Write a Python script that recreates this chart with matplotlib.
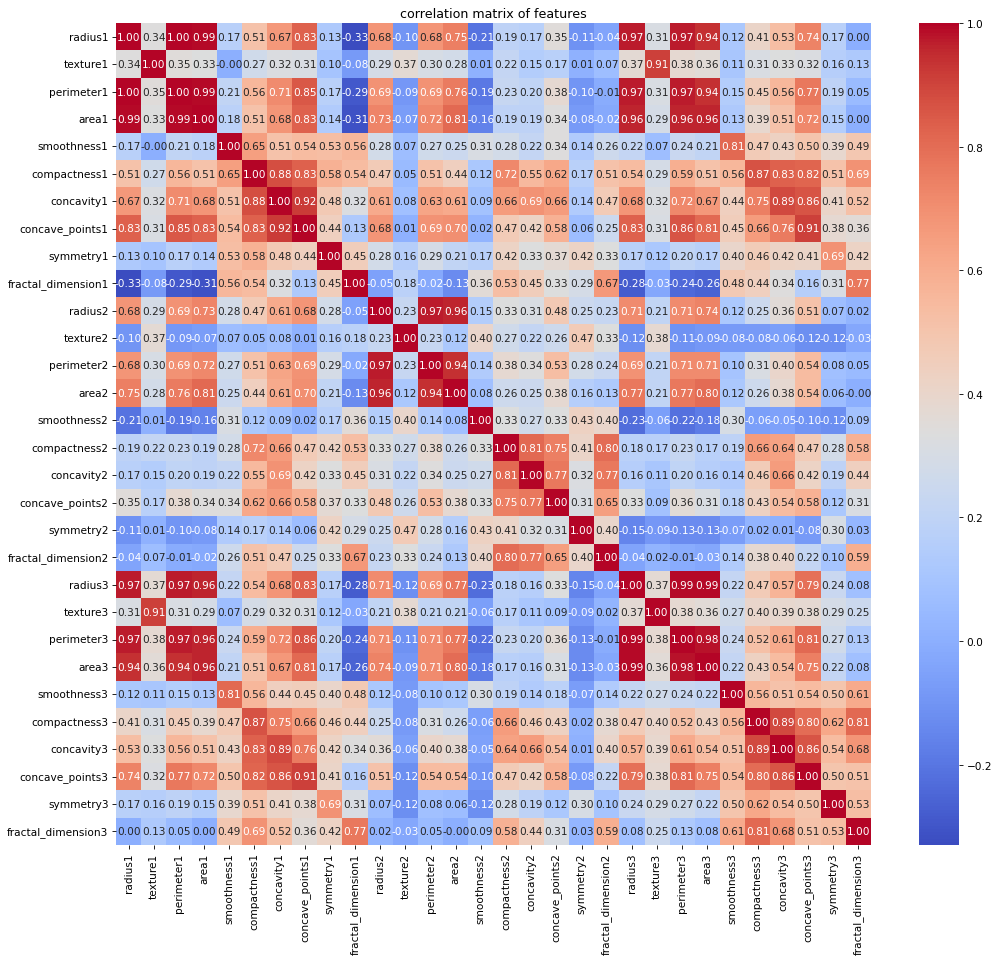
import numpy as np
import pandas as pd
import matplotlib
matplotlib.use("Agg")
import matplotlib.pyplot as plt
import seaborn as sns

# nombres de las variables (mean=1, se=2, worst=3)
base = ["radius", "texture", "perimeter", "area", "smoothness", "compactness",
        "concavity", "concave_points", "symmetry", "fractal_dimension"]
features = [f"{b}{i}" for i in (1, 2, 3) for b in base]

# bloques de la matriz de correlacion (triangulo inferior)
# bloque mean x mean
block_11 = [
    [1.00, 0.34, 1.00, 0.99, 0.17, 0.51, 0.67, 0.83, 0.13, -0.33],
    [0.34, 1.00, 0.35, 0.33, -0.001, 0.27, 0.32, 0.31, 0.10, -0.08],
    [1.00, 0.35, 1.00, 0.99, 0.21, 0.56, 0.71, 0.85, 0.17, -0.29],
    [0.99, 0.33, 0.99, 1.00, 0.18, 0.51, 0.68, 0.83, 0.14, -0.31],
    [0.17, -0.001, 0.21, 0.18, 1.00, 0.65, 0.51, 0.54, 0.53, 0.56],
    [0.51, 0.27, 0.56, 0.51, 0.65, 1.00, 0.88, 0.83, 0.58, 0.54],
    [0.67, 0.32, 0.71, 0.68, 0.51, 0.88, 1.00, 0.92, 0.48, 0.32],
    [0.83, 0.31, 0.85, 0.83, 0.54, 0.83, 0.92, 1.00, 0.44, 0.13],
    [0.13, 0.10, 0.17, 0.14, 0.53, 0.58, 0.48, 0.44, 1.00, 0.45],
    [-0.33, -0.08, -0.29, -0.31, 0.56, 0.54, 0.32, 0.13, 0.45, 1.00],
]
# bloque se x mean
block_21 = [
    [0.68, 0.29, 0.69, 0.73, 0.28, 0.47, 0.61, 0.68, 0.28, -0.05],
    [-0.10, 0.37, -0.09, -0.07, 0.07, 0.05, 0.08, 0.01, 0.16, 0.18],
    [0.68, 0.30, 0.69, 0.72, 0.27, 0.51, 0.63, 0.69, 0.29, -0.02],
    [0.75, 0.28, 0.76, 0.81, 0.25, 0.44, 0.61, 0.70, 0.21, -0.13],
    [-0.21, 0.01, -0.19, -0.16, 0.31, 0.12, 0.09, 0.02, 0.17, 0.36],
    [0.19, 0.22, 0.23, 0.19, 0.28, 0.72, 0.66, 0.47, 0.42, 0.53],
    [0.17, 0.15, 0.20, 0.19, 0.22, 0.55, 0.69, 0.42, 0.33, 0.45],
    [0.35, 0.17, 0.38, 0.34, 0.34, 0.62, 0.66, 0.58, 0.37, 0.33],
    [-0.11, 0.01, -0.10, -0.08, 0.14, 0.17, 0.14, 0.06, 0.42, 0.29],
    [-0.04, 0.07, -0.01, -0.02, 0.26, 0.51, 0.47, 0.25, 0.33, 0.67],
]
# bloque se x se
block_22 = [
    [1.00, 0.23, 0.97, 0.96, 0.15, 0.33, 0.31, 0.48, 0.25, 0.23],
    [0.23, 1.00, 0.23, 0.12, 0.40, 0.27, 0.22, 0.26, 0.47, 0.33],
    [0.97, 0.23, 1.00, 0.94, 0.14, 0.38, 0.34, 0.53, 0.28, 0.24],
    [0.96, 0.12, 0.94, 1.00, 0.08, 0.26, 0.25, 0.38, 0.16, 0.13],
    [0.15, 0.40, 0.14, 0.08, 1.00, 0.33, 0.27, 0.33, 0.43, 0.40],
    [0.33, 0.27, 0.38, 0.26, 0.33, 1.00, 0.81, 0.75, 0.41, 0.80],
    [0.31, 0.22, 0.34, 0.25, 0.27, 0.81, 1.00, 0.77, 0.32, 0.77],
    [0.48, 0.26, 0.53, 0.38, 0.33, 0.75, 0.77, 1.00, 0.31, 0.65],
    [0.25, 0.47, 0.28, 0.16, 0.43, 0.41, 0.32, 0.31, 1.00, 0.40],
    [0.23, 0.33, 0.24, 0.13, 0.40, 0.80, 0.77, 0.65, 0.40, 1.00],
]
# bloque worst x mean
block_31 = [
    [0.97, 0.37, 0.97, 0.96, 0.22, 0.54, 0.68, 0.83, 0.17, -0.28],
    [0.31, 0.91, 0.31, 0.29, 0.07, 0.29, 0.32, 0.31, 0.12, -0.03],
    [0.97, 0.38, 0.97, 0.96, 0.24, 0.59, 0.72, 0.86, 0.20, -0.24],
    [0.94, 0.36, 0.94, 0.96, 0.21, 0.51, 0.67, 0.81, 0.17, -0.26],
    [0.12, 0.11, 0.15, 0.13, 0.81, 0.56, 0.44, 0.45, 0.40, 0.48],
    [0.41, 0.31, 0.45, 0.39, 0.47, 0.87, 0.75, 0.66, 0.46, 0.44],
    [0.53, 0.33, 0.56, 0.51, 0.43, 0.83, 0.89, 0.76, 0.42, 0.34],
    [0.74, 0.32, 0.77, 0.72, 0.50, 0.82, 0.86, 0.91, 0.41, 0.16],
    [0.17, 0.16, 0.19, 0.15, 0.39, 0.51, 0.41, 0.38, 0.69, 0.31],
    [0.00, 0.13, 0.05, 0.00, 0.49, 0.69, 0.52, 0.36, 0.42, 0.77],
]
# bloque worst x se
block_32 = [
    [0.71, -0.12, 0.69, 0.77, -0.23, 0.18, 0.16, 0.33, -0.15, -0.04],
    [0.21, 0.38, 0.21, 0.21, -0.06, 0.17, 0.11, 0.09, -0.09, 0.02],
    [0.71, -0.11, 0.71, 0.77, -0.22, 0.23, 0.20, 0.36, -0.13, -0.01],
    [0.74, -0.09, 0.71, 0.80, -0.18, 0.17, 0.16, 0.31, -0.13, -0.03],
    [0.12, -0.08, 0.10, 0.12, 0.30, 0.19, 0.14, 0.18, -0.07, 0.14],
    [0.25, -0.08, 0.31, 0.26, -0.06, 0.66, 0.46, 0.43, 0.02, 0.38],
    [0.36, -0.06, 0.40, 0.38, -0.05, 0.64, 0.66, 0.54, 0.01, 0.40],
    [0.51, -0.12, 0.54, 0.54, -0.10, 0.47, 0.42, 0.58, -0.08, 0.22],
    [0.07, -0.12, 0.08, 0.06, -0.12, 0.28, 0.19, 0.12, 0.30, 0.10],
    [0.02, -0.03, 0.05, -0.001, 0.09, 0.58, 0.44, 0.31, 0.03, 0.59],
]
# bloque worst x worst
block_33 = [
    [1.00, 0.37, 0.99, 0.99, 0.22, 0.47, 0.57, 0.79, 0.24, 0.08],
    [0.37, 1.00, 0.38, 0.36, 0.27, 0.40, 0.39, 0.38, 0.29, 0.25],
    [0.99, 0.38, 1.00, 0.98, 0.24, 0.52, 0.61, 0.81, 0.27, 0.13],
    [0.99, 0.36, 0.98, 1.00, 0.22, 0.43, 0.54, 0.75, 0.22, 0.08],
    [0.22, 0.27, 0.24, 0.22, 1.00, 0.56, 0.51, 0.54, 0.50, 0.61],
    [0.47, 0.40, 0.52, 0.43, 0.56, 1.00, 0.89, 0.80, 0.62, 0.81],
    [0.57, 0.39, 0.61, 0.54, 0.51, 0.89, 1.00, 0.86, 0.54, 0.68],
    [0.79, 0.38, 0.81, 0.75, 0.54, 0.80, 0.86, 1.00, 0.50, 0.51],
    [0.24, 0.29, 0.27, 0.22, 0.50, 0.62, 0.54, 0.50, 1.00, 0.53],
    [0.08, 0.25, 0.13, 0.08, 0.61, 0.81, 0.68, 0.51, 0.53, 1.00],
]


def main():
    b11, b21, b22 = np.array(block_11), np.array(block_21), np.array(block_22)
    b31, b32, b33 = np.array(block_31), np.array(block_32), np.array(block_33)
    # armar la matriz simetrica completa
    corr = np.block([
        [b11, b21.T, b31.T],
        [b21, b22, b32.T],
        [b31, b32, b33],
    ])
    corr_df = pd.DataFrame(corr, index=features, columns=features)

    dpi = 76
    fig = plt.figure(figsize=(1000 / dpi, 962 / dpi), dpi=dpi)
    ax = fig.add_axes([0.116, 1 - 846 / 962, 0.755, 822 / 962])
    cax = fig.add_axes([0.919, 1 - 846 / 962, 0.040, 822 / 962])

    sns.heatmap(corr_df, annot=True, fmt=".2f", cmap="coolwarm",
                xticklabels=features, yticklabels=features,
                ax=ax, cbar_ax=cax)
    ax.set_title("correlation matrix of features")
    ax.set_xticklabels(features, rotation=90)
    ax.set_yticklabels(features, rotation=0)

    fig.savefig("out.png", dpi=dpi)
    plt.close(fig)


if __name__ == "__main__":
    main()
